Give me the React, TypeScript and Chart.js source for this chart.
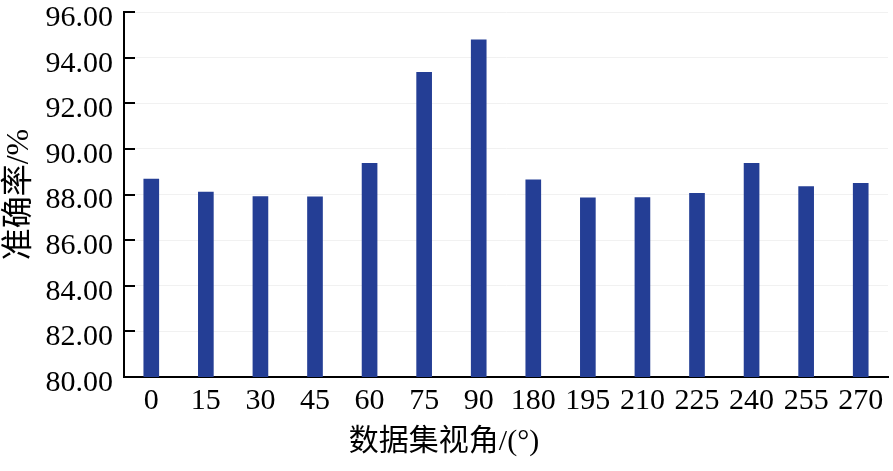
import React, { useRef, useEffect } from 'react';
import Chart from 'chart.js/auto';

// viewing angle of each data subset, and recognition accuracy (%)
const viewAngles = ['0', '15', '30', '45', '60', '75', '90', '180', '195', '210', '225', '240', '255', '270'];
const accuracy = [88.68, 88.11, 87.91, 87.9, 89.37, 93.35, 94.78, 88.64, 87.85, 87.86, 88.05, 89.37, 88.35, 88.49];

const yMin = 80;
const yMax = 96;
const yStep = 2;

const FONT = '"Liberation Serif", "Noto Sans CJK SC", serif';

// short tick marks pointing into the plot, like the original figure
const innerTicks = {
  id: 'innerTicks',
  afterDraw(chart: any) {
    const y = chart.scales.y;
    const ctx = chart.ctx;
    ctx.save();
    ctx.strokeStyle = '#000';
    ctx.lineWidth = 2;
    y.ticks.forEach((t: any) => {
      const py = Math.round(y.getPixelForValue(t.value));
      ctx.beginPath();
      ctx.moveTo(y.right, py);
      ctx.lineTo(y.right + 11, py);
      ctx.stroke();
    });
    ctx.restore();
  },
};

const App = () => {
  const canvasRef = useRef<HTMLCanvasElement>(null);
  const chartRef = useRef<Chart | null>(null);

  useEffect(() => {
    if (!canvasRef.current) return;
    chartRef.current = new Chart(canvasRef.current, {
      type: 'bar',
      data: {
        labels: viewAngles,
        datasets: [{
          data: accuracy,
          backgroundColor: '#243e95',
          barThickness: 15,
        }],
      },
      options: {
        animation: false,
        responsive: true,
        maintainAspectRatio: false,
        layout: { padding: { top: 12, right: 5, left: 0, bottom: 0 } },
        plugins: {
          legend: { display: false },
          tooltip: { enabled: false },
          title: {
            display: true,
            position: 'bottom',
            text: '数据集视角/(°)',
            color: '#000',
            font: { family: FONT, size: 30, weight: 'normal' },
            padding: { top: 0, bottom: 11 },
          },
        },
        scales: {
          x: {
            grid: { display: false, drawTicks: false },
            border: { color: '#000', width: 2 },
            ticks: { color: '#000', font: { family: FONT, size: 30 }, padding: 6, maxRotation: 0, autoSkip: false },
            afterFit: (s: any) => {
              s.height = 47;
              s.paddingLeft = 0;
              s.paddingRight = 0;
            },
          },
          y: {
            min: yMin,
            max: yMax,
            grid: { color: '#f1f1f1', lineWidth: 1, drawTicks: false },
            border: { color: '#000', width: 2 },
            ticks: {
              stepSize: yStep,
              color: '#000',
              padding: 11,
              labelOffset: 6,
              font: { family: FONT, size: 30 },
              callback: (v: any) => Number(v).toFixed(2),
            },
            title: {
              display: true,
              text: '准确率/%',
              color: '#000',
              font: { family: FONT, size: 32 },
              padding: { top: 0, bottom: 0 },
            },
            afterFit: (s: any) => {
              s.width = 124;
              s.paddingTop = 0;
              s.paddingBottom = 0;
            },
          },
        },
      },
      plugins: [innerTicks],
    });
    return () => {
      if (chartRef.current) chartRef.current.destroy();
    };
  }, []);

  return (
    <div style={{ position: 'absolute', left: 0, top: 0, width: 893, height: 471, background: '#fff' }}>
      <canvas ref={canvasRef}></canvas>
    </div>
  );
};

export default App;
